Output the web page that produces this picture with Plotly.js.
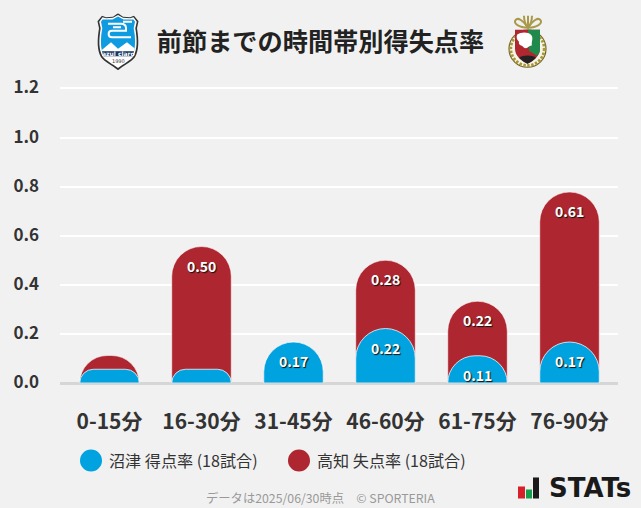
<!DOCTYPE html>
<html><head><meta charset="utf-8">
<script src="https://cdn.plot.ly/plotly-3.0.1.min.js"></script>
<style>html,body{margin:0;padding:0;background:#f1f1f1}#c{width:641px;height:508px}</style>
</head><body><div id="c"></div>
<script>
const categories = ["0-15分","16-30分","31-45分","46-60分","61-75分","76-90分"];
const scoredRate = [0.056,0.056,0.167,0.222,0.111,0.167];
const concededRate = [0.056,0.5,0,0.278,0.222,0.611];
const scoredName = "沼津 得点率 (18試合)";
const concededName = "高知 失点率 (18試合)";
const yTicks = [0,0.2,0.4,0.6,0.8,1.0,1.2];
const titleText = "前節までの時間帯別得失点率";
const footerText = "データは2025/06/30時点　© SPORTERIA";
const labelMin = 0.1;

const W=641,H=508,L=60,R=618,B=382.7,UNIT=245,YMAX=1.206,T=B-YMAX*UNIT;
const FONT='"Noto Sans CJK JP","Noto Sans",sans-serif';
const px=x=>(x-L)/(R-L), py=y=>(B-y)/(B-T);
const stackedTop=concededRate.map((v,i)=>v+scoredRate[i]);

const crestBlue=`<svg xmlns="http://www.w3.org/2000/svg" viewBox="0 0 42 57"><path d="M21 0 26 3.500 33 4 37 2.500 41.500 8 40 15C42 27 42 37 38 44 34 49 27 52 21 57 15 52 8 49 4 44 0 37 0 27 2 15L.5 8 5 2.500 9 4 16 3.500Z" fill="#333"/><path d="M21 1.800 26 4.700 33 5.200 36.500 4.200 39.800 8.500 38.300 15C40.300 27 40.300 36 36.500 43 33 47.500 26.500 50.500 21 54.800 15.500 50.500 9 47.500 5.500 43 1.700 36 1.700 27 3.700 15L2.200 8.500 5.500 4.200 9 5.200 16 4.700Z" fill="#fff"/><path d="M21 3.400 26.500 6.300 36.400 6.300 38 8.500 36.700 15C38.500 24 38.500 32 37 38H5C3.500 32 3.500 24 5.300 15L4 8.500 5.600 6.300 15.500 6.300Z" fill="#0f9be0"/><path d="M4.500 37 14 29 21 35.500 30 29 37.500 35 37 38H5Z" fill="#fff"/><path d="M5 38H37C36.500 40 36 41.500 35.500 43H6.500C6 41.500 5.500 40 5 38Z" fill="#17365f"/><g fill="none" stroke="#fff" stroke-width="2"><path d="M11 10.500H24C27.500 10.500 29 12 29 15V17.500H15C10.500 17.500 10.500 24 15 24H34"/><path d="M26 8.500H35"/><path d="M16 14H24"/></g></svg>`;
const crestRed=`<svg xmlns="http://www.w3.org/2000/svg" viewBox="0 0 42 54"><g fill="none" stroke="#a89a4a" stroke-width="2"><path d="M21 13C16 6 11 2 8.500 5.500 6 9 12 12.500 21 13 30 12.500 36 9 33.500 5.500 31 2 26 6 21 13Z"/><path d="M17 1C17 6 18.500 10 21 13 23.500 10 25 6 25 1"/><path d="M21 1V13"/></g><circle cx="20.500" cy="34" r="18.500" fill="#f6f4e6" stroke="#6f6428" stroke-width="1.200"/><circle cx="20.500" cy="34" r="16.800" fill="none" stroke="#a8963a" stroke-width="3" stroke-dasharray="2.500 1.500"/><path d="M8 15H33V34C33 41 27 46 20.500 49 14 46 8 41 8 34Z" fill="#b1272f"/><path d="M21 15H33V34C33 37 32 39 30 41L22 36Z" fill="#1f8a4c"/><path d="M10 20C14 17 21 17 24 20 27 23 24 27 25 31 22 30 21 35 17 33 15 30 11 31 12 27 10 25 9 23 10 20Z" fill="#fff"/><path d="M12 43C16 40 25 40 29 43 26 46 23 48 20.500 49 18 48 15 46 12 43Z" fill="#222"/></svg>`;
const svgUri=s=>"data:image/svg+xml;charset=utf-8,"+encodeURIComponent(s);

const BARW=0.647;
const traces=[
 {type:"bar",name:concededName,x:categories,y:stackedTop,width:BARW,
  marker:{color:"#ae2730",line:{color:"rgba(255,255,255,0.55)",width:1}},hoverinfo:"skip",showlegend:false},
 {type:"bar",name:scoredName,x:categories,y:scoredRate,yaxis:"y2",width:BARW,
  marker:{color:"#00a3e0",line:{color:"rgba(255,255,255,0.75)",width:1}},hoverinfo:"skip",showlegend:false}
];

const annotations=[];
const addLabel=(i,top,val)=>{ if(val>=labelMin) annotations.push({
  x:categories[i],y:top,xref:"x",yref:"y",yshift:-19,xshift:-0.5,showarrow:false,text:val.toFixed(2),
  font:{family:FONT,size:14,color:"#fff",weight:700,shadow:"1px 1px 1px #111"}});};
categories.forEach((c,i)=>{addLabel(i,stackedTop[i],concededRate[i]);addLabel(i,scoredRate[i],scoredRate[i]);});
const pa=(x,y,text,size,color,anchor,extra)=>annotations.push(Object.assign({
  xref:"paper",yref:"paper",x:px(x),y:py(y),xanchor:anchor||"left",yanchor:"middle",showarrow:false,text,
  font:Object.assign({family:FONT,size,color},extra||{})}));
pa(107,460,scoredName,16.100,"#333");
pa(315,460,concededName,16.100,"#333");
pa(320.500,497,footerText,12.300,"#999","center");
pa(547,487.500,"STATs",26,"#1a1a1a","left",{family:'"DejaVu Sans",sans-serif',weight:700});
pa(118,54,"azul claro",6,"#fff","center",{family:'"DejaVu Sans",sans-serif',weight:700});
pa(118,61,"1990",5,"#333","center",{family:'"DejaVu Sans",sans-serif'});

const box=(x0,y0,x1,y1,fill)=>({type:"rect",xref:"paper",yref:"paper",x0:px(x0),x1:px(x1),y0:py(y0),y1:py(y1),fillcolor:fill,line:{width:0},layer:"above"});
const dot=(cx,cy,r,fill)=>({type:"circle",xref:"paper",yref:"paper",x0:px(cx-r),x1:px(cx+r),y0:py(cy+r),y1:py(cy-r),fillcolor:fill,line:{width:0},layer:"above"});
const shapes=[dot(91,460,11,"#00a3e0"),dot(299,460,11,"#ae2730"),
  box(518,486,525,498,"#d8202a"),box(526,489,532,498,"#14a04a"),box(533,477,539,498,"#1a1a1a")];

const image=(src,x0,y0,w,h)=>({source:svgUri(src),xref:"paper",yref:"paper",x:px(x0),y:py(y0),sizex:w/(R-L),sizey:h/(B-T),xanchor:"left",yanchor:"top",sizing:"stretch",layer:"above"});

const layout={
 width:W,height:H,paper_bgcolor:"#f1f1f1",plot_bgcolor:"#f1f1f1",barmode:"overlay",barcornerradius:30,
 margin:{l:L,r:W-R,t:T,b:H-B,pad:0},showlegend:false,
 title:{text:titleText,x:320.500/W,xanchor:"center",xref:"container",y:1-42/H,yanchor:"middle",font:{family:FONT,size:25.200,color:"#222",weight:700}},
 xaxis:{type:"category",range:[-0.538,5.527],tickfont:{family:FONT,size:21,color:"#333",weight:700},ticklabelstandoff:24,showgrid:false,zeroline:false,showline:false,ticks:"",fixedrange:true},
 yaxis:{range:[0,YMAX],tickvals:yTicks,ticktext:yTicks.map(v=>v.toFixed(1)),tickfont:{family:FONT,size:17,color:"#333",weight:700},ticklabelstandoff:20,ticklabelshift:-1,gridcolor:"#ffffff",gridwidth:2,zeroline:true,zerolinecolor:"#d6d6d6",zerolinewidth:3,ticks:"",fixedrange:true},
 yaxis2:{range:[0,YMAX],overlaying:"y",visible:false,fixedrange:true},
 annotations,shapes,
 images:[image(crestBlue,97,13.500,42,57),image(crestRed,507,15,42,54)]
};
Plotly.newPlot("c",traces,layout,{displayModeBar:false,staticPlot:true});
</script></body></html>
